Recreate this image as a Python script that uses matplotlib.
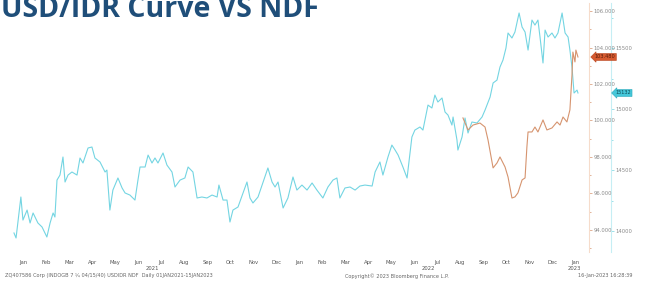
import matplotlib.pyplot as plt
import matplotlib.ticker as mticker
from matplotlib.transforms import blended_transform_factory

# ── data (x = months since 1 Jan 2021) ───────────────────────────────────────

SPOT_MONTH = [
    0.00, 0.09, 0.13, 0.30, 0.39, 0.57, 0.70, 0.83, 1.04, 1.22, 1.43, 1.57,
    1.70, 1.78, 1.87, 2.00, 2.13, 2.22, 2.35, 2.52, 2.74, 2.87, 3.00, 3.22,
    3.39, 3.52, 3.74, 3.96, 4.04, 4.17, 4.30, 4.52, 4.70, 4.83, 5.04, 5.26,
    5.39, 5.48, 5.70, 5.83, 6.00, 6.13, 6.26, 6.48, 6.65, 6.87, 7.00, 7.22,
    7.43, 7.57, 7.78, 7.96, 8.17, 8.39, 8.61, 8.83, 8.91, 9.09, 9.26, 9.39,
    9.52, 9.74, 9.96, 10.13, 10.26, 10.39, 10.61, 10.83, 11.04, 11.22, 11.35,
    11.48, 11.70, 11.91, 12.13, 12.30, 12.52, 12.74, 12.96, 13.17, 13.43,
    13.65, 13.87, 14.04, 14.17, 14.39, 14.61, 14.83, 15.04, 15.26, 15.57,
    15.70, 15.91, 16.04, 16.26, 16.43, 16.57, 16.70, 16.91, 17.09, 17.30,
    17.43, 17.65, 17.78, 18.00, 18.17, 18.30, 18.43, 18.61, 18.74, 18.87,
    19.04, 19.09, 19.26, 19.30, 19.48, 19.61, 19.74, 19.91, 20.13, 20.35,
    20.48, 20.70, 20.83, 21.00, 21.13, 21.26, 21.39, 21.48, 21.65, 21.78,
    21.96, 22.09, 22.22, 22.35, 22.52, 22.65, 22.78, 22.87, 23.00, 23.09,
    23.22, 23.39, 23.52, 23.65, 23.83, 23.96, 24.09, 24.17, 24.26, 24.35,
    24.48, 24.52,
]
SPOT_USDIDR = [
    13984, 13943, 14008, 14279, 14090, 14172, 14066, 14148, 14066, 14033, 13951, 14066,
    14148, 14115, 14418, 14459, 14607, 14402, 14459, 14484, 14459, 14599, 14558, 14681,
    14689, 14599, 14566, 14484, 14500, 14172, 14336, 14435, 14353, 14312, 14295, 14254,
    14418, 14525, 14525, 14623, 14558, 14599, 14558, 14640, 14541, 14484, 14361, 14418,
    14435, 14525, 14484, 14271, 14279, 14271, 14295, 14279, 14377, 14254, 14254, 14074,
    14172, 14197, 14312, 14402, 14271, 14230, 14279, 14402, 14517, 14402, 14361,
    14402, 14189, 14271, 14443, 14336, 14377, 14336, 14394, 14336, 14271,
    14361, 14418, 14435, 14271, 14353, 14361, 14336, 14369, 14377, 14369,
    14484, 14566, 14459, 14607, 14705, 14664, 14623, 14525, 14435, 14771,
    14828, 14853, 14828, 15033, 15009, 15115, 15058, 15091, 14976, 14951,
    14869, 14935, 14746, 14664, 14771, 14927, 14804, 14894, 14886, 14935,
    14992, 15099, 15214, 15238, 15345, 15402, 15501, 15624, 15583, 15632,
    15788, 15673, 15632, 15484, 15730, 15689, 15730, 15591, 15378, 15648,
    15591, 15624, 15583, 15624, 15788, 15624, 15591, 15484, 15345, 15132,
    15156, 15132,
]

NDF_MONTH = [
    19.52, 19.74, 19.96, 20.26, 20.48, 20.61, 20.83, 21.00, 21.13, 21.35, 21.48,
    21.65, 21.78, 21.91, 22.09, 22.22, 22.30, 22.35, 22.52, 22.65, 22.78, 23.00,
    23.17, 23.39, 23.61, 23.74, 23.87, 24.04, 24.17, 24.26, 24.30, 24.39, 24.43,
    24.52,
]
NDF_PRICE = [
    100.14, 99.48, 99.75, 99.86, 99.64, 98.93, 97.40, 97.67, 98.00, 97.45, 96.90,
    95.75, 95.81, 96.03, 96.74, 96.85, 98.55, 99.37, 99.37, 99.64, 99.37, 100.03,
    99.48, 99.59, 99.92, 99.75, 100.19, 99.92, 100.58, 102.49, 103.75, 103.21, 103.86,
    103.48,
]

MONTH_LABELS = ["Jan", "Feb", "Mar", "Apr", "May", "Jun", "Jul", "Aug", "Sep",
                "Oct", "Nov", "Dec"] * 2 + ["Jan"]
YEAR_LABELS = ["2021", "2022", "2023"]
YEAR_POS    = [6.0, 18.0, 24.35]

PRICE_TICKS = [94, 96, 98, 100, 102, 104, 106]
SPOT_TICKS  = [14000, 14500, 15000, 15500]

CYAN   = "#74d5e2"
ORANGE = "#d6946f"
GREY   = "#8a8a8a"

# ── figure ────────────────────────────────────────────────────────────────────

fig = plt.figure(figsize=(6.57, 2.83), dpi=100)
ax = fig.add_axes([8 / 657, 1 - 252 / 283, 581 / 657, 249 / 283])
ax2 = ax.twinx()

ax.plot(NDF_MONTH, NDF_PRICE, color=ORANGE, lw=0.8, zorder=3)
ax2.plot(SPOT_MONTH, SPOT_USDIDR, color=CYAN, lw=0.8)
ax.set_zorder(ax2.get_zorder() + 1)
ax.patch.set_visible(False)

ax.set_xlim(-0.26, 25.0)
ax.set_ylim(92.79, 106.44)
ax2.set_ylim(13828, 15870)

for a in (ax, ax2):
    for s in ("top", "left", "bottom"):
        a.spines[s].set_visible(False)
ax.spines["right"].set_color("#f6dccb")
ax2.spines["right"].set_color("#c6eef4")
ax2.spines["right"].set_position(("outward", 16))

# right axes: price (orange) and spot (cyan)
ax.yaxis.tick_right()
ax.set_yticks(PRICE_TICKS, [f"{t:.3f}" for t in PRICE_TICKS])
ax.yaxis.set_minor_locator(mticker.MultipleLocator(1))
ax.tick_params(axis="y", which="both", direction="out", color=ORANGE,
               labelcolor=GREY, labelsize=3.8, length=2, width=0.5, pad=1)
ax.tick_params(axis="y", which="minor", length=1.5)

ax2.set_yticks(SPOT_TICKS, [str(t) for t in SPOT_TICKS])
ax2.yaxis.set_minor_locator(mticker.MultipleLocator(250))
ax2.tick_params(axis="y", which="both", direction="out", color=CYAN,
                labelcolor=GREY, labelsize=3.8, length=2, width=0.5, pad=1)
ax2.tick_params(axis="y", which="minor", length=1.5)

# x axis: month names centred in each month, years below
ax.set_xticks([m + 0.4 for m in range(len(MONTH_LABELS))], MONTH_LABELS)
ax.tick_params(axis="x", length=0, labelsize=3.8, labelcolor="#555555", pad=6)
xt = blended_transform_factory(ax.transData, ax.transAxes)
for lab, pos in zip(YEAR_LABELS, YEAR_POS):
    ax.text(pos, -0.066, lab, transform=xt, ha="center", va="center",
            fontsize=3.8, color="#555555")

# last-value tags
ax.annotate(f"{NDF_PRICE[-1]:.3f}", xy=(1.0, NDF_PRICE[-1]),
            xycoords=("axes fraction", "data"), xytext=(4, 0),
            textcoords="offset points", ha="left", va="center",
            fontsize=3.6, color="#5a1d0a",
            bbox=dict(boxstyle="larrow,pad=0.2", fc="#d65a30", ec="#b8441d", lw=0.4),
            annotation_clip=False)
ax2.annotate(f"{SPOT_USDIDR[-1]}", xy=(1.0, SPOT_USDIDR[-1]),
             xycoords=("axes fraction", "data"), xytext=(19, 0),
             textcoords="offset points", ha="left", va="center",
             fontsize=3.6, color="#0d4c57",
             bbox=dict(boxstyle="larrow,pad=0.2", fc="#45c7d9", ec="#2aa9bb", lw=0.4),
             annotation_clip=False)

# title (tops of the letters run off the slide edge, as in the original)
fig.text(1 / 657, 1 - 17 / 283, "USD/IDR Curve VS NDF", fontsize=20.5,
         fontweight="bold", color="#1f4e79", family="Open Sans",
         ha="left", va="baseline")

# Bloomberg footer
fig.text(5 / 657, 1 - 276 / 283,
         "ZQ407586 Corp (INDOGB 7 \u00bc 04/15/40) USDIDR NDF  Daily 01JAN2021-15JAN2023",
         fontsize=3.6, color="#666666", ha="left", va="center")
fig.text(345 / 657, 1 - 276 / 283, "Copyright\u00a9 2023 Bloomberg Finance L.P.",
         fontsize=3.6, color="#666666", ha="left", va="center")
fig.text(578 / 657, 1 - 276 / 283, "16-Jan-2023 16:28:39",
         fontsize=3.6, color="#666666", ha="left", va="center")

fig.savefig("out.png", dpi=100)
